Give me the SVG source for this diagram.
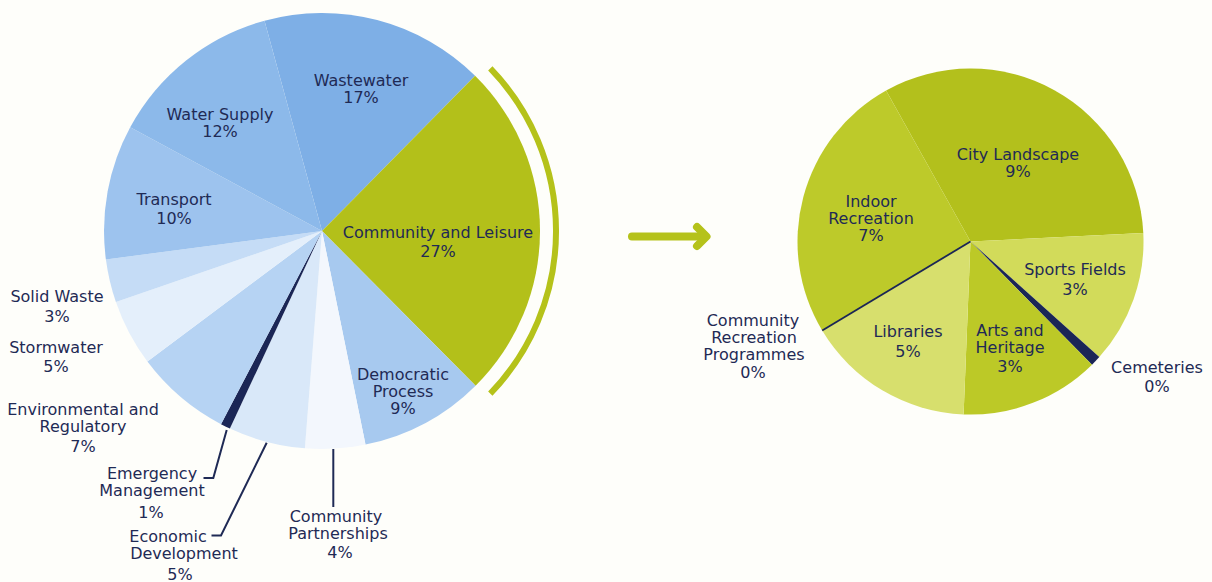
<svg xmlns="http://www.w3.org/2000/svg" width="1212" height="582" viewBox="0 0 1212 582">
<style>
.t{font-family:"DejaVu Sans","Liberation Sans",sans-serif;font-size:16px;fill:#1f2a55;text-anchor:middle}
.ld{fill:none;stroke:#1f2a55;stroke-width:2}
.navy{fill:#1b2656}
</style>
<rect width="1212" height="582" fill="#fefefa"/>
<g id="left-pie">
<g id="wastewater"><path d="M322,231 L264.5,20.7 A218,218 0 0 1 475.1,75.8 Z" fill="#7eafe6"/><text class="t" x="361" y="86">Wastewater</text><text class="t" x="361" y="103">17%</text></g>
<g id="community-leisure"><path d="M322,231 L475.1,75.8 A218,218 0 0 1 475.6,385.7 Z" fill="#b3c01a"/><text class="t" x="438" y="238">Community and Leisure</text><text class="t" x="438" y="257">27%</text></g>
<g id="democratic-process"><path d="M322,231 L475.6,385.7 A218,218 0 0 1 365.5,444.6 Z" fill="#a7c9ef"/><text class="t" x="403" y="380">Democratic</text><text class="t" x="403" y="397">Process</text><text class="t" x="403" y="414">9%</text></g>
<g id="community-partnerships"><path d="M322,231 L365.5,444.6 A218,218 0 0 1 304.9,448.3 Z" fill="#f3f7fd"/><text class="t" x="336" y="522">Community</text><text class="t" x="338" y="539">Partnerships</text><text class="t" x="340" y="558">4%</text></g>
<g id="economic-development"><path d="M322,231 L304.9,448.3 A218,218 0 0 1 229.9,428.6 Z" fill="#d9e8f9"/><text class="t" x="168" y="542">Economic</text><text class="t" x="184" y="559">Development</text><text class="t" x="180" y="580">5%</text></g>
<g id="emergency-management"><path d="M322,231 L229.9,428.6 A218,218 0 0 1 221.0,424.2 Z" class="navy"/><text class="t" x="152" y="479">Emergency</text><text class="t" x="152" y="496">Management</text><text class="t" x="151" y="518">1%</text></g>
<g id="environmental-regulatory"><path d="M322,231 L221.0,424.2 A218,218 0 0 1 147.4,361.6 Z" fill="#b6d3f3"/><text class="t" x="83" y="415">Environmental and</text><text class="t" x="83" y="432">Regulatory</text><text class="t" x="83" y="452">7%</text></g>
<g id="stormwater"><path d="M322,231 L147.4,361.6 A218,218 0 0 1 115.9,302.0 Z" fill="#e4effb"/><text class="t" x="56" y="353">Stormwater</text><text class="t" x="56" y="372">5%</text></g>
<g id="solid-waste"><path d="M322,231 L115.9,302.0 A218,218 0 0 1 105.9,259.5 Z" fill="#c5dcf6"/><text class="t" x="57" y="302">Solid Waste</text><text class="t" x="57" y="322">3%</text></g>
<g id="transport"><path d="M322,231 L105.9,259.5 A218,218 0 0 1 130.2,127.3 Z" fill="#9dc3ee"/><text class="t" x="174" y="205">Transport</text><text class="t" x="174" y="224">10%</text></g>
<g id="water-supply"><path d="M322,231 L130.2,127.3 A218,218 0 0 1 264.5,20.7 Z" fill="#8cb9ea"/><text class="t" x="220" y="120">Water Supply</text><text class="t" x="220" y="137">12%</text></g>
</g>
<g id="right-pie">
<g id="city-landscape"><path d="M970.5,241.5 L886.1,90.5 A173,173 0 0 1 1143.3,233.1 Z" fill="#b3c01c"/><text class="t" x="1018" y="160">City Landscape</text><text class="t" x="1018" y="177">9%</text></g>
<g id="sports-fields"><path d="M970.5,241.5 L1143.3,233.1 A173,173 0 0 1 1099.3,357.0 Z" fill="#d2db5a"/><text class="t" x="1075" y="275">Sports Fields</text><text class="t" x="1075" y="295">3%</text></g>
<g id="cemeteries"><path d="M970.5,241.5 L1099.3,357.0 A173,173 0 0 1 1092.0,364.7 Z" class="navy"/><text class="t" x="1157" y="373">Cemeteries</text><text class="t" x="1157" y="392">0%</text></g>
<g id="arts-heritage"><path d="M970.5,241.5 L1092.0,364.7 A173,173 0 0 1 963.6,414.4 Z" fill="#bcc927"/><text class="t" x="1010" y="336">Arts and</text><text class="t" x="1010" y="353">Heritage</text><text class="t" x="1010" y="372">3%</text></g>
<g id="libraries"><path d="M970.5,241.5 L963.6,414.4 A173,173 0 0 1 822.2,330.6 Z" fill="#d7df6d"/><text class="t" x="908" y="337">Libraries</text><text class="t" x="908" y="357">5%</text></g>
<g id="indoor-recreation"><path d="M970.5,241.5 L822.2,330.6 A173,173 0 0 1 886.1,90.5 Z" fill="#bdca2a"/><text class="t" x="871" y="207">Indoor</text><text class="t" x="871" y="224">Recreation</text><text class="t" x="871" y="241">7%</text></g>
<g id="community-recreation-programmes"><line x1="970.5" y1="241.5" x2="822.2" y2="330.6" stroke="#1b2656" stroke-width="1.8"/><text class="t" x="753" y="326">Community</text><text class="t" x="754" y="343">Recreation</text><text class="t" x="754" y="360">Programmes</text><text class="t" x="753" y="378">0%</text></g>
</g>
<g id="connectors">
<path class="ld" d="M226.7,430 L213.3,478 L203.5,478"/>
<path class="ld" d="M266.7,442.7 L221,535.5 L211.5,535.5"/>
<path class="ld" d="M333.3,449 L333.3,507"/>
<path d="M490.3,68.4 A234,234 0 0 1 490.3,393.6" fill="none" stroke="#b5c21a" stroke-width="6"/>
<g id="arrow" fill="none" stroke="#b5c21a" stroke-width="8" stroke-linecap="round" stroke-linejoin="round"><path d="M632,236.5 L705,236.5"/><path d="M697,227 L706.5,236.5 L697,246"/></g>
</g>
</svg>
